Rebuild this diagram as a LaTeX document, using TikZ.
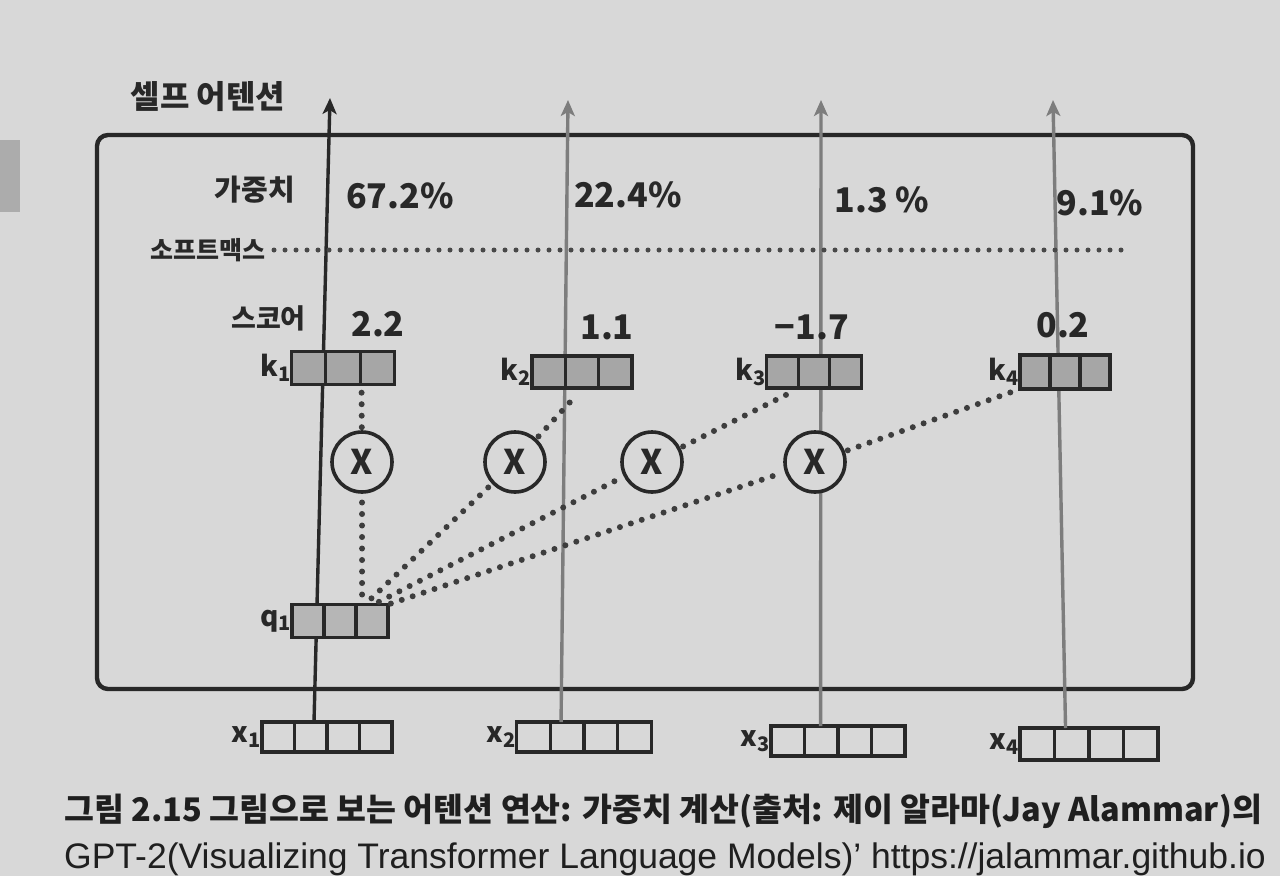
\documentclass[tikz,border=0pt]{standalone}
\usepackage{fontspec}
\setmainfont{Noto Sans}
\newfontfamily\kr{Noto Sans CJK KR}
\newfontfamily\capfont{Liberation Sans}
\usetikzlibrary{arrows.meta,calc}
\definecolor{bg}{RGB}{216,216,216}
\definecolor{ink}{RGB}{40,40,40}
\definecolor{grayline}{RGB}{125,125,125}
\definecolor{kfill}{RGB}{166,166,166}
\definecolor{qfill}{RGB}{182,182,182}
\definecolor{tabgray}{RGB}{172,172,172}
\newcommand{\lsub}[1]{\raisebox{-0.3ex}{\fontsize{20}{20}\selectfont #1}}
\newcommand{\VecBox}[8]{%
  \node[vecbox, fill=#6, minimum width=#4pt, minimum height=#5pt] (#1) at (#2,#3) {};
  \node[veclabel, anchor=east] (#1lab) at (#1.west) {#7};
  \foreach \f in {#8} {\draw[vecline] ($(#1.north west)!\f!(#1.north east)$) -- ($(#1.south west)!\f!(#1.south east)$);}
}
\tikzset{
  vecbox/.style={draw=ink, line width=3.6pt, rectangle, inner sep=0pt, outer sep=0pt},
  vecline/.style={draw=ink, line width=3.2pt},
  veclabel/.style={text=ink, inner sep=1pt, font=\kr\bfseries\fontsize{28}{28}\selectfont},
  framebox/.style={draw=ink, line width=4.4pt, rounded corners=11pt, inner sep=0pt},
  mainarrow/.style={draw=ink, line width=3.4pt, -{Stealth[length=16pt,width=14pt,inset=4pt]}},
  grayarrow/.style={draw=grayline, line width=3.4pt, -{Stealth[length=16pt,width=14pt,inset=4pt]}},
  mul/.style={circle, draw=ink, line width=3.6pt, minimum size=60pt, fill=bg, inner sep=0pt, text=ink, font=\kr\bfseries\fontsize{34}{34}\selectfont},
  dots/.style={draw=ink!90, line width=6pt, line cap=round, dash pattern=on 0pt off 11.5pt},
  sdots/.style={draw=ink!85, line width=5pt, line cap=round, dash pattern=on 0pt off 11pt},
  krlabel/.style={text=ink, inner sep=0pt, font=\kr\bfseries},
  numlabel/.style={text=ink, inner sep=0pt, font=\kr\bfseries\fontsize{34}{34}\selectfont},
  caption/.style={text=black!88, inner sep=0pt}
}
\begin{document}
\begin{tikzpicture}[x=1pt,y=-1pt]
\useasboundingbox (0,0) rectangle (1280,876);
\clip (0,0) rectangle (1280,876);
\fill[bg] (0,0) rectangle (1280,876);
\fill[tabgray] (0,140) rectangle (20,212);

% frame
\node[framebox, minimum width=1096pt, minimum height=554pt] (frame) at (645,412) {};

% arrow end points
\coordinate (t1) at (330,98);
\coordinate (t2) at (568,100);
\coordinate (t3) at (821,100);
\coordinate (t4) at (1053,100);

% input vectors
\VecBox{x1}{327}{737}{130}{30}{bg}{x\lsub{1}}{0.25,0.5,0.75}
\VecBox{x2}{584}{737}{135}{30}{bg}{x\lsub{2}}{0.25,0.5,0.75}
\VecBox{x3}{838}{741}{134}{30}{bg}{x\lsub{3}}{0.25,0.5,0.75}
\VecBox{x4}{1089}{744}{138}{32}{bg}{x\lsub{4}}{0.25,0.5,0.75}

% vertical lines
\draw[mainarrow] ($(x1.north west)!0.4!(x1.north east)$) -- (t1);
\draw[grayarrow] ($(x2.north west)!0.33!(x2.north east)$) -- (t2);
\draw[grayarrow] ($(x3.north west)!0.37!(x3.north east)$) -- (t3);
\draw[grayarrow] ($(x4.north west)!0.33!(x4.north east)$) -- (t4);

% key and query vectors
\VecBox{k1}{343}{368}{103}{33}{kfill}{k\lsub{1}}{0.333,0.667}
\VecBox{k2}{582}{372}{100}{32}{kfill}{k\lsub{2}}{0.333,0.667}
\VecBox{k3}{814}{372}{95}{32}{kfill}{k\lsub{3}}{0.333,0.667}
\VecBox{k4}{1065}{372}{90}{34}{kfill}{k\lsub{4}}{0.333,0.667}
\VecBox{q1}{340}{621}{96}{33}{qfill}{q\lsub{1}}{0.333,0.667}

% multiplication circles
\node[mul] (c1) at (362,462) {X};
\node[mul] (c2) at (515,462) {X};
\node[mul] (c3) at (652,462) {X};
\node[mul] (c4) at (815,462) {X};

% dotted connections q1 -> circle -> k
\draw[dots, shorten <=10pt, shorten >=3pt] ($(q1.north west)!0.73!(q1.north east)$) -- (c1);
\draw[dots, shorten >=8pt, shorten <=3pt] (c1) -- ($(k1.south west)!0.68!(k1.south east)$);
\draw[dots, shorten <=9pt, shorten >=3pt] ($(q1.north west)!0.76!(q1.north east)$) -- (c2);
\draw[dots, shorten >=9pt, shorten <=3pt] (c2) -- ($(k2.south west)!0.51!(k2.south east)$);
\draw[dots, shorten <=6pt, shorten >=3pt] ($(q1.north west)!0.85!(q1.north east)$) -- (c3);
\draw[dots, shorten >=7pt, shorten <=3pt] (c3) -- ($(k3.south west)!0.35!(k3.south east)$);
\draw[dots, shorten <=3pt, shorten >=3pt] (q1.north east) -- (c4);
\draw[dots, shorten >=6pt, shorten <=3pt] (c4) -- (k4.south west);

% row labels
\node[krlabel, font=\kr\bfseries\fontsize{32}{32}\selectfont] (title) at (208,97) {셀프 어텐션};
\node[krlabel, anchor=east, font=\kr\bfseries\fontsize{29}{29}\selectfont] (wlab) at (295,190) {가중치};
\node[krlabel, anchor=east, font=\kr\bfseries\fontsize{25}{25}\selectfont] (smx) at (266,250) {소프트맥스};
\node[krlabel, anchor=east, font=\kr\bfseries\fontsize{27}{27}\selectfont] (slab) at (306,318) {스코어};
\coordinate (smxend) at (1130,250);
\draw[sdots, shorten <=8pt] (smx.east) -- (smxend);

% weights
\node[numlabel] (w1) at (400,196) {67.2\%};
\node[numlabel] (w2) at (628,195) {22.4\%};
\node[numlabel] (w3) at (882,200) {1.3 \%};
\node[numlabel] (w4) at (1100,203) {9.1\%};

% scores
\node[numlabel] (s1) at (378,324) {2.2};
\node[numlabel] (s2) at (607,327) {1.1};
\node[numlabel] (s3) at (812,327) {−1.7};
\node[numlabel] (s4) at (1063,325) {0.2};

% caption
\node[caption, anchor=base west, font=\kr\bfseries\fontsize{32.5}{32.5}\selectfont] (cap1) at (64,821) {그림 2.15 그림으로 보는 어텐션 연산: 가중치 계산(출처: 제이 알라마(Jay Alammar)의};
\node[caption, anchor=base west, font=\capfont\fontsize{35.5}{35.5}\selectfont] (cap2) at (64,868) {GPT-2(Visualizing Transformer Language Models)’ https://jalammar.github.io};
\end{tikzpicture}
\end{document}
